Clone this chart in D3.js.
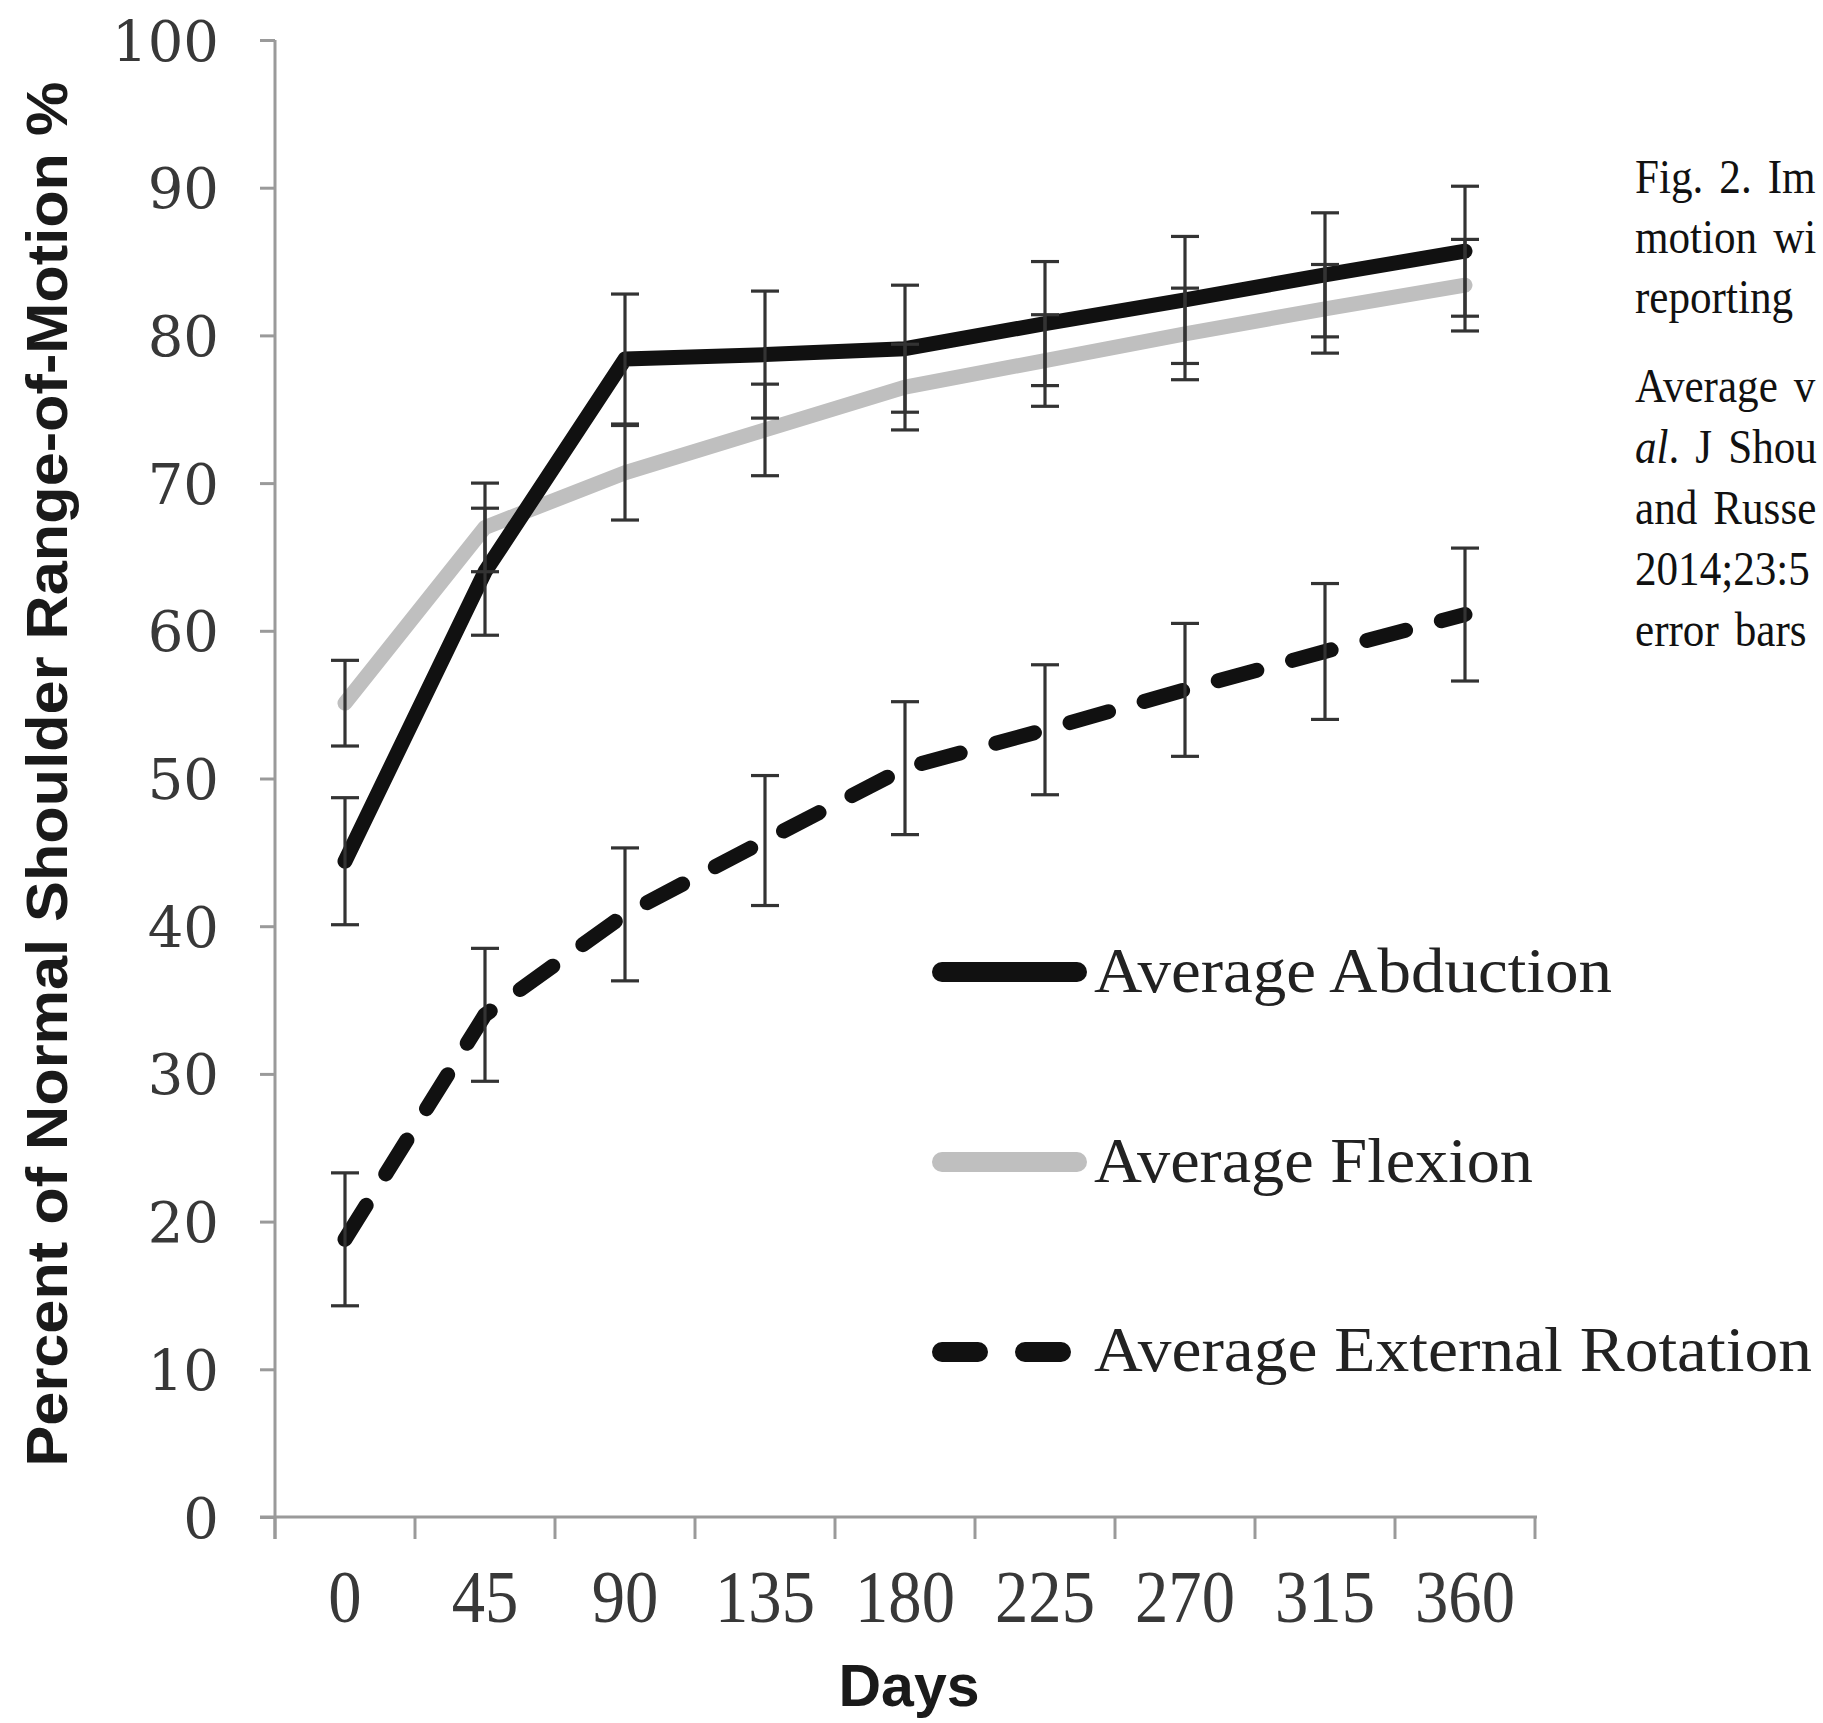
<!DOCTYPE html>
<html>
<head>
<meta charset="utf-8">
<script src="https://cdn.jsdelivr.net/npm/d3@7"></script>
<style>
  html, body { margin: 0; padding: 0; background: #ffffff; }
  svg { display: block; overflow: hidden; }
</style>
</head>
<body>
<script>
// ---------------- data ----------------
const days = ["0", "45", "90", "135", "180", "225", "270", "315", "360"];
const abduction    = [44.4, 64.0, 78.4, 78.7, 79.1, 80.8, 82.4, 84.1, 85.7];
const abductionErr = [4.3, 4.3, 4.4, 4.3, 4.3, 4.2, 4.3, 4.2, 4.4];
const flexion      = [55.1, 67.0, 70.7, 73.6, 76.5, 78.3, 80.1, 81.8, 83.4];
const flexionErr   = [2.9, 3.0, 3.2, 3.1, 2.9, 3.1, 3.1, 3.0, 3.1];
const extRotation  = [18.8, 34.0, 40.8, 45.8, 50.7, 53.3, 56.0, 58.6, 61.1];
const extRotErr    = [4.5, 4.5, 4.5, 4.4, 4.5, 4.4, 4.5, 4.6, 4.5];
const yTicks = [0, 10, 20, 30, 40, 50, 60, 70, 80, 90, 100];
const seriesNames = ["Average Abduction", "Average Flexion", "Average External Rotation"];
const xTitle = "Days";
const yTitle = "Percent of Normal Shoulder Range-of-Motion %";
const captionPara1 = ["Fig. 2. Im", "motion wi", "reporting"];
const captionPara2 = ["Average v", "al.| J Shou", "and Russe", "2014;23:5", "error bars"];

// ---------------- setup ----------------
const W = 1823, H = 1723;
const svg = d3.select("body").append("svg").attr("width", W).attr("height", H);
svg.append("rect").attr("width", W).attr("height", H).attr("fill", "#ffffff");

const x = d3.scaleBand().domain(days).range([275, 1535]).padding(0);
const y = d3.scaleLinear().domain([0, 100]).range([1517, 40]);
const cx = d => x(d) + x.bandwidth() / 2;

const axisColor = "#9a9a9a";
const textColor = "#383838";

// ---------------- y axis ----------------
const yAxis = svg.append("g").attr("transform", "translate(275,0)")
  .call(d3.axisLeft(y).tickValues(yTicks).tickSize(15).tickPadding(41).tickFormat(d3.format("d")));
yAxis.select(".domain").attr("stroke", axisColor).attr("stroke-width", 3)
  .attr("d", `M0,${y(100)}V1539`);
yAxis.selectAll(".tick line").attr("stroke", axisColor).attr("stroke-width", 3);
yAxis.selectAll(".tick text")
  .attr("font-family", "'DejaVu Serif', serif").attr("font-size", 56)
  .attr("fill", textColor).attr("dy", null).attr("y", 20);

// ---------------- x axis ----------------
const xAxis = svg.append("g").attr("transform", "translate(0,1517)")
  .call(d3.axisBottom(x).tickSize(0).tickPadding(0));
xAxis.select(".domain").attr("stroke", axisColor).attr("stroke-width", 3)
  .attr("d", `M260,0H1537`);
xAxis.selectAll(".tick text")
  .attr("font-family", "'Liberation Serif', serif").attr("font-size", 74)
  .attr("fill", textColor).attr("dy", null).attr("y", 0)
  .attr("transform", "translate(0,105) scale(0.9,1)");
// category boundary ticks
xAxis.selectAll(".bound").data(d3.range(days.length + 1)).join("line")
  .attr("class", "bound")
  .attr("x1", i => x.range()[0] + i * x.step()).attr("x2", i => x.range()[0] + i * x.step())
  .attr("y1", 0).attr("y2", 22)
  .attr("stroke", axisColor).attr("stroke-width", 3);

// ---------------- titles ----------------
svg.append("text")
  .attr("transform", "translate(67,774) rotate(-90)")
  .attr("text-anchor", "middle")
  .attr("font-family", "'Liberation Sans', Arial, sans-serif")
  .attr("font-weight", "bold").attr("font-size", 58)
  .attr("textLength", 1385).attr("lengthAdjust", "spacingAndGlyphs")
  .attr("fill", "#1a1a1a")
  .text(yTitle);

svg.append("text")
  .attr("x", 909).attr("y", 1706)
  .attr("text-anchor", "middle")
  .attr("font-family", "'Liberation Sans', Arial, sans-serif")
  .attr("font-weight", "bold").attr("font-size", 60)
  .attr("textLength", 141).attr("lengthAdjust", "spacingAndGlyphs")
  .attr("fill", "#1a1a1a")
  .text(xTitle);

// ---------------- lines ----------------
const line = d3.line().x((v, i) => cx(days[i])).y(v => y(v));
const plot = svg.append("g");

plot.append("path").datum(flexion)
  .attr("d", line).attr("fill", "none")
  .attr("stroke", "#bfbfbf").attr("stroke-width", 15)
  .attr("stroke-linejoin", "round").attr("stroke-linecap", "round");

plot.append("path").datum(abduction)
  .attr("d", line).attr("fill", "none")
  .attr("stroke", "#111111").attr("stroke-width", 15)
  .attr("stroke-linejoin", "round").attr("stroke-linecap", "round");

plot.append("path").datum(extRotation)
  .attr("d", line).attr("fill", "none")
  .attr("stroke", "#111111").attr("stroke-width", 15)
  .attr("stroke-dasharray", "40,37")
  .attr("stroke-linejoin", "round").attr("stroke-linecap", "round");

// ---------------- error bars ----------------
const errSets = [
  { vals: abduction, errs: abductionErr },
  { vals: flexion, errs: flexionErr },
  { vals: extRotation, errs: extRotErr }
];
const capW = 14;
errSets.forEach(s => {
  const g = plot.append("g").attr("stroke", "#333333").attr("stroke-width", 3.2);
  const pts = s.vals.map((v, i) => ({ d: days[i], lo: v - s.errs[i], hi: v + s.errs[i] }));
  g.selectAll(".ev").data(pts).join("line")
    .attr("x1", p => cx(p.d)).attr("x2", p => cx(p.d))
    .attr("y1", p => y(p.hi)).attr("y2", p => y(p.lo));
  g.selectAll(".ct").data(pts).join("line")
    .attr("x1", p => cx(p.d) - capW).attr("x2", p => cx(p.d) + capW)
    .attr("y1", p => y(p.hi)).attr("y2", p => y(p.hi));
  g.selectAll(".cb").data(pts).join("line")
    .attr("x1", p => cx(p.d) - capW).attr("x2", p => cx(p.d) + capW)
    .attr("y1", p => y(p.lo)).attr("y2", p => y(p.lo));
});

// ---------------- legend ----------------
const legend = svg.append("g");
const legY = [972, 1162, 1352];
const legBase = [992, 1182, 1371];
const legLen = [518, 439, 718];
const legStroke = ["#111111", "#bfbfbf", "#111111"];
seriesNames.forEach((name, i) => {
  const ln = legend.append("line")
    .attr("x1", 942).attr("x2", i === 2 ? 1061 : 1077)
    .attr("y1", legY[i]).attr("y2", legY[i])
    .attr("stroke", legStroke[i]).attr("stroke-width", 20)
    .attr("stroke-linecap", "round");
  if (i === 2) ln.attr("stroke-dasharray", "36,47");
  legend.append("text")
    .attr("x", 1094).attr("y", legBase[i])
    .attr("font-family", "'Liberation Serif', serif").attr("font-size", 64)
    .attr("textLength", legLen[i]).attr("lengthAdjust", "spacingAndGlyphs")
    .attr("fill", "#222222")
    .text(name);
});

// ---------------- caption (cut off at the right edge) ----------------
const cap = svg.append("g").attr("font-family", "'Liberation Serif', 'Times New Roman', serif")
  .attr("font-size", 49).attr("fill", "#111111");
captionPara1.forEach((t, i) => {
  cap.append("text").attr("transform", `translate(1635,${193 + 60 * i}) scale(0.88,1)`)
    .attr("word-spacing", 6).text(t);
});
captionPara2.forEach((t, i) => {
  const tx = cap.append("text").attr("transform", `translate(1635,${402 + 61 * i}) scale(0.88,1)`)
    .attr("word-spacing", 6);
  if (t.includes("|")) {
    const [a, b] = t.split("|");
    tx.append("tspan").attr("font-style", "italic").text(a.replace(".", ""));
    tx.append("tspan").text("." + b);
  } else {
    tx.text(t);
  }
});
</script>
</body>
</html>
